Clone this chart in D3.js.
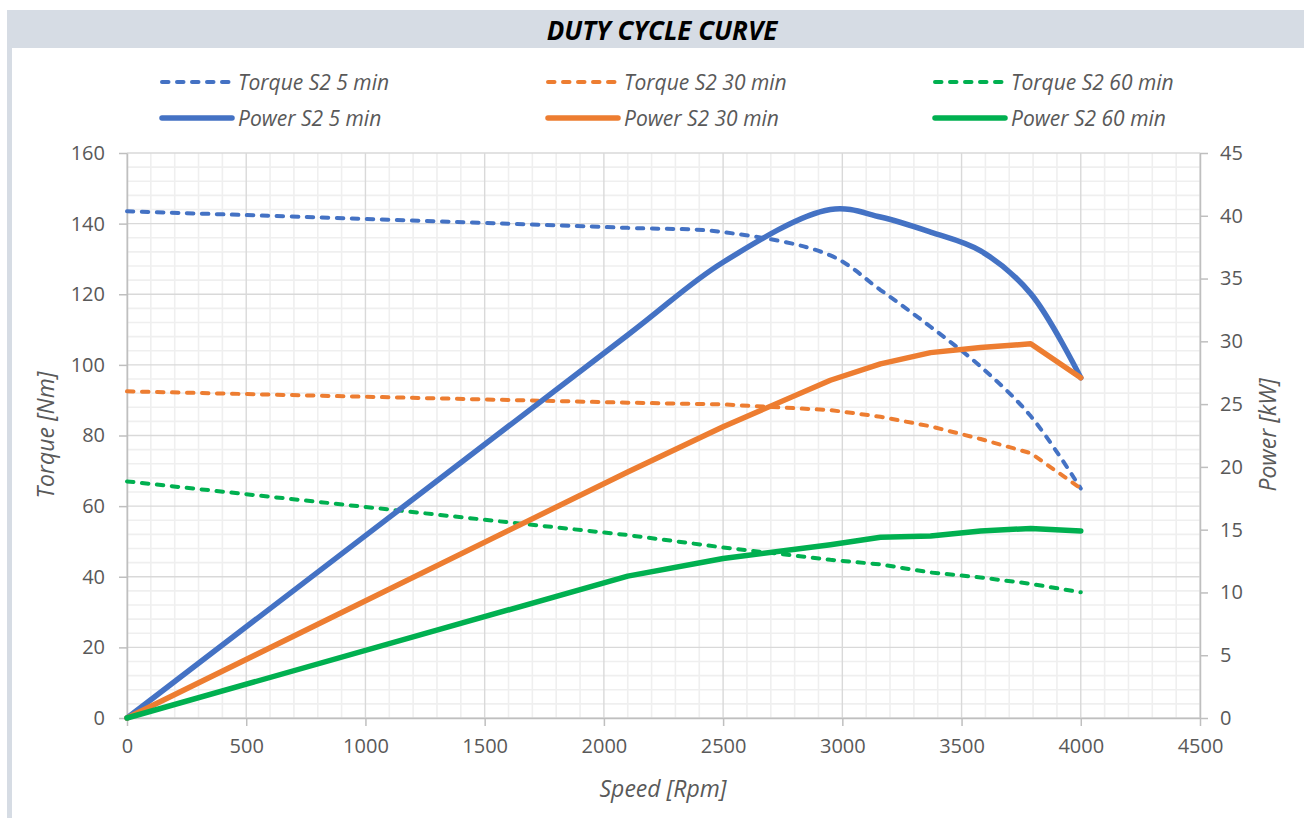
<!DOCTYPE html>
<html>
<head>
<meta charset="utf-8">
<title>Duty cycle curve</title>
<script src="https://cdnjs.cloudflare.com/ajax/libs/d3/7.8.5/d3.min.js"></script>
<style>
	body { margin: 0; background: #fff; }
	text { font-family: "Open Sans", "Noto Sans", sans-serif; }
</style>
</head>
<body>
<div id="graph"></div>
<script>
//Javascript Document

//speed points (rpm) shared by all curves
var speed = [0, 2100, 2500, 2950, 3160, 3370, 3580, 3790, 4000];

//torque in Nm, left axis
var torque5 = [143.5, 138.8, 137.6, 131.0, 121.2, 110.8, 99.5, 85.5, 65.0];
var torque30 = [92.5, 89.3, 88.8, 87.2, 85.3, 82.6, 79.0, 75.0, 65.0];
var torque60 = [67.0, 51.8, 48.3, 44.8, 43.5, 41.2, 39.8, 38.0, 35.6];

//power in kW, right axis
var power5 = [0, 30.5, 36.3, 40.5, 39.9, 38.7, 37.2, 33.8, 27.1];
var power30 = [0, 19.6, 23.2, 26.9, 28.2, 29.1, 29.5, 29.8, 27.1];
var power60 = [0, 11.3, 12.7, 13.8, 14.4, 14.5, 14.9, 15.1, 14.9];

var seriesNames = ["Torque S2 5 min", "Torque S2 30 min", "Torque S2 60 min",
	"Power S2 5 min", "Power S2 30 min", "Power S2 60 min"];

var speedTicks = [0, 500, 1000, 1500, 2000, 2500, 3000, 3500, 4000, 4500];
var torqueTicks = [0, 20, 40, 60, 80, 100, 120, 140, 160];
var powerTicks = [0, 5, 10, 15, 20, 25, 30, 35, 40, 45];

(function(){
	"use strict";

	var width = 1304;
	var height = 818;
	var margin = {left: 127, right: 104, top: 153, bottom: 100};
	var plotW = width - margin.left - margin.right;
	var plotH = height - margin.top - margin.bottom;

	var blue = "#4472c4", orange = "#ed7d31", green = "#00b050";
	var textColor = "#595959";
	var dashW = 4, solidW = 5.5, dashPattern = "6.5,8.5";

	var svg = d3.select("#graph").append("svg")
		.attr("width", width)
		.attr("height", height);

	//title band and left frame strip
	svg.append("rect").attr("x", 7).attr("y", 10).attr("width", width - 7).attr("height", 38).attr("fill", "#d6dce4");
	svg.append("rect").attr("x", 7).attr("y", 48).attr("width", 5).attr("height", height - 48).attr("fill", "#d6dce4");
	svg.append("text")
		.attr("x", 662).attr("y", 40)
		.attr("text-anchor", "middle")
		.attr("font-size", 26).attr("font-weight", "bold").attr("font-style", "italic")
		.attr("fill", "#000")
		.text("DUTY CYCLE CURVE");

	var x = d3.scaleLinear().domain([0, 4500]).range([0, plotW]);
	var yT = d3.scaleLinear().domain([0, 160]).range([plotH, 0]);
	var yP = d3.scaleLinear().domain([0, 45]).range([plotH, 0]);

	var g = svg.append("g").attr("transform", "translate(" + margin.left + "," + margin.top + ")");

	//minor grid first, then major grid on top
	var minorX = d3.range(0, 4501, 100).filter(function(d){ return d % 500 !== 0; });
	var minorY = d3.range(0, 161, 4).filter(function(d){ return d % 20 !== 0; });
	g.selectAll(".minx").data(minorX).enter().append("line")
		.attr("x1", x).attr("x2", x).attr("y1", 0).attr("y2", plotH)
		.attr("stroke", "#efefef").attr("stroke-width", 1.6);
	g.selectAll(".miny").data(minorY).enter().append("line")
		.attr("x1", 0).attr("x2", plotW).attr("y1", yT).attr("y2", yT)
		.attr("stroke", "#efefef").attr("stroke-width", 1.6);
	g.selectAll(".majx").data(speedTicks).enter().append("line")
		.attr("x1", x).attr("x2", x).attr("y1", 0).attr("y2", plotH)
		.attr("stroke", "#d9d9d9").attr("stroke-width", 1.4);
	g.selectAll(".majy").data(torqueTicks).enter().append("line")
		.attr("x1", 0).attr("x2", plotW).attr("y1", yT).attr("y2", yT)
		.attr("stroke", "#d9d9d9").attr("stroke-width", 1.4);

	//axes
	function styleAxis(sel) {
		sel.select(".domain").attr("stroke", "#bfbfbf").attr("stroke-width", 1.5);
		sel.selectAll(".tick line").attr("stroke", "#bfbfbf").attr("stroke-width", 1.5);
		sel.selectAll(".tick text").attr("fill", textColor).attr("font-size", 20)
			.attr("font-family", "'Open Sans', 'Noto Sans', sans-serif");
	}
	var fmt = d3.format("d");
	g.append("g").attr("transform", "translate(0," + plotH + ")")
		.call(d3.axisBottom(x).tickValues(speedTicks).tickFormat(fmt).tickSize(8).tickSizeOuter(0).tickPadding(13))
		.call(styleAxis);
	g.append("g")
		.call(d3.axisLeft(yT).tickValues(torqueTicks).tickFormat(fmt).tickSize(8).tickSizeOuter(0).tickPadding(14))
		.call(styleAxis);
	g.append("g").attr("transform", "translate(" + plotW + ",0)")
		.call(d3.axisRight(yP).tickValues(powerTicks).tickFormat(fmt).tickSize(8).tickSizeOuter(0).tickPadding(12))
		.call(styleAxis);

	//axis titles
	svg.append("text")
		.attr("transform", "translate(54,435) rotate(-90)")
		.attr("text-anchor", "middle").attr("font-size", 23).attr("font-style", "italic").attr("fill", textColor)
		.text("Torque [Nm]");
	svg.append("text")
		.attr("transform", "translate(1276,435) rotate(-90)")
		.attr("text-anchor", "middle").attr("font-size", 23).attr("font-style", "italic").attr("fill", textColor)
		.text("Power [kW]");
	svg.append("text")
		.attr("x", 663).attr("y", 797)
		.attr("text-anchor", "middle").attr("font-size", 23).attr("font-style", "italic").attr("fill", textColor)
		.text("Speed [Rpm]");

	//series, torque on left scale and power on right scale
	var series = [
		{name: seriesNames[0], vals: torque5, y: yT, color: blue, dash: true, smooth: true},
		{name: seriesNames[1], vals: torque30, y: yT, color: orange, dash: true, smooth: false},
		{name: seriesNames[2], vals: torque60, y: yT, color: green, dash: true, smooth: false},
		{name: seriesNames[3], vals: power5, y: yP, color: blue, dash: false, smooth: true},
		{name: seriesNames[4], vals: power30, y: yP, color: orange, dash: false, smooth: false},
		{name: seriesNames[5], vals: power60, y: yP, color: green, dash: false, smooth: false}
	];

	series.forEach(function(s) {
		var line = d3.line()
			.x(function(d, i) { return x(speed[i]); })
			.y(function(d) { return s.y(d); })
			.curve(s.smooth ? d3.curveCatmullRom.alpha(0.5) : d3.curveLinear);
		g.append("path")
			.attr("d", line(s.vals))
			.attr("fill", "none")
			.attr("stroke", s.color)
			.attr("stroke-width", s.dash ? dashW : solidW)
			.attr("stroke-linecap", "round")
			.attr("stroke-linejoin", "round")
			.attr("stroke-dasharray", s.dash ? dashPattern : null);
	});

	//legend, 3 columns x 2 rows
	var legX = [162, 548, 935];
	var legY = [82, 118];
	series.forEach(function(s, i) {
		var lx = legX[i % 3], ly = legY[Math.floor(i / 3)];
		svg.append("line")
			.attr("x1", lx).attr("x2", lx + 70).attr("y1", ly).attr("y2", ly)
			.attr("stroke", s.color)
			.attr("stroke-width", s.dash ? dashW : solidW)
			.attr("stroke-linecap", "round")
			.attr("stroke-dasharray", s.dash ? dashPattern : null);
		svg.append("text")
			.attr("x", lx + 76).attr("y", ly + 8)
			.attr("font-size", 21).attr("font-style", "italic").attr("fill", textColor)
			.text(s.name);
	});
})();
</script>
</body>
</html>
